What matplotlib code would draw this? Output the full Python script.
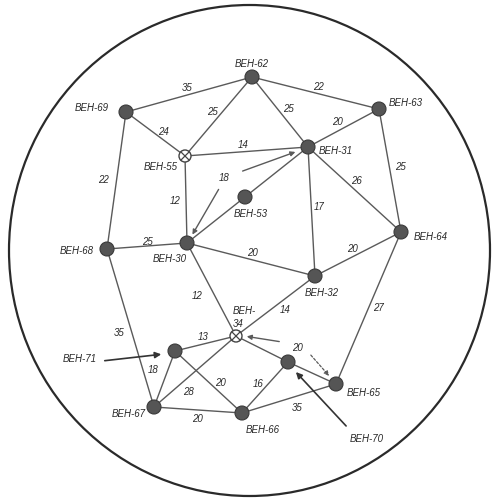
import matplotlib
matplotlib.use("Agg")
import matplotlib.pyplot as plt
from matplotlib.patches import Ellipse, Circle

plt.rcParams["font.family"] = ["Liberation Sans", "DejaVu Sans"]

# ---- data ----
node_names = ["BEH-62", "BEH-69", "BEH-63", "BEH-55", "BEH-31", "BEH-53", "BEH-64",
              "BEH-68", "BEH-30", "BEH-32", "BEH-34", "BEH-71", "BEH-70", "BEH-65",
              "BEH-67", "BEH-66"]
node_x = [252, 126, 379, 185, 308, 245, 401, 107, 187, 315, 236, 175, 288, 336, 154, 242]
node_y = [78, 113, 110, 157, 148, 198, 233, 250, 244, 277, 337, 352, 363, 385, 408, 414]
junction_nodes = ["BEH-55", "BEH-34"]

edge_from = ["BEH-62", "BEH-62", "BEH-62", "BEH-62", "BEH-63", "BEH-63", "BEH-69", "BEH-69",
             "BEH-55", "BEH-55", "BEH-31", "BEH-31", "BEH-31", "BEH-53", "BEH-68", "BEH-30",
             "BEH-32", "BEH-30", "BEH-32", "BEH-64", "BEH-34", "BEH-34", "BEH-70", "BEH-68",
             "BEH-71", "BEH-71", "BEH-70", "BEH-67", "BEH-66", "BEH-34"]
edge_to = ["BEH-69", "BEH-55", "BEH-31", "BEH-63", "BEH-31", "BEH-64", "BEH-55", "BEH-68",
           "BEH-31", "BEH-30", "BEH-64", "BEH-32", "BEH-53", "BEH-30", "BEH-30", "BEH-32",
           "BEH-64", "BEH-34", "BEH-34", "BEH-65", "BEH-71", "BEH-70", "BEH-65", "BEH-67",
           "BEH-67", "BEH-66", "BEH-66", "BEH-66", "BEH-65", "BEH-67"]
edge_weight = ["35", "25", "25", "22", "20", "25", "24", "22",
               "14", "12", "26", "17", "", "", "25", "20",
               "20", "12", "14", "27", "13", "20", "", "35",
               "18", "20", "16", "20", "35", "28"]
edge_label_x = [187, 212, 288, 318, 337, 400, 163, 103, 243, 175, 356, 319, 0, 0, 147, 252,
                352, 197, 285, 378, 203, 297, 0, 119, 153, 220, 258, 197, 297, 188]
edge_label_y = [88, 112, 109, 87, 122, 167, 132, 180, 145, 201, 181, 207, 0, 0, 242, 253,
                249, 296, 310, 308, 337, 348, 0, 333, 370, 383, 384, 419, 408, 392]

# weight of the 31-30 link shown with arrows
link_18_label = "18"

# node label placement: (x, y, ha)
label_pos = {
    "BEH-62": (252, 64, "center"), "BEH-69": (109, 108, "right"), "BEH-63": (389, 103, "left"),
    "BEH-55": (178, 167, "right"), "BEH-31": (319, 151, "left"), "BEH-53": (251, 214, "center"),
    "BEH-64": (414, 237, "left"), "BEH-68": (94, 251, "right"), "BEH-30": (170, 259, "center"),
    "BEH-32": (322, 293, "center"), "BEH-71": (97, 359, "right"), "BEH-70": (350, 439, "left"),
    "BEH-65": (347, 393, "left"), "BEH-67": (146, 414, "right"), "BEH-66": (263, 430, "center"),
}

W, H = 492, 502
fig = plt.figure(figsize=(W / 100, H / 100), dpi=100)
ax = fig.add_axes([0, 0, 1, 1])
ax.set_xlim(0, W)
ax.set_ylim(H, 0)
ax.axis("off")

pos = {n: (x, y) for n, x, y in zip(node_names, node_x, node_y)}
line_c = "#5a5a5a"
text_c = "#2a2a2a"
fs = 7

ax.add_patch(Ellipse((249.5, 251.5), 481, 491, fill=False, ec="#2a2a2a", lw=1.6, zorder=1))

for a, b, w, lx, ly in zip(edge_from, edge_to, edge_weight, edge_label_x, edge_label_y):
    (x1, y1), (x2, y2) = pos[a], pos[b]
    ax.plot([x1, x2], [y1, y2], color=line_c, lw=1.0, zorder=2)
    if w:
        ax.text(lx, ly, w, fontsize=fs, style="italic", color=text_c,
                ha="center", va="center", zorder=5)

# the 31 -> 30 link, drawn as two arrows from its label
ax.text(224, 178, link_18_label, fontsize=fs, style="italic", color=text_c,
        ha="center", va="center", zorder=5)
arrow_kw = dict(arrowstyle="-|>", color=line_c, lw=1.0, mutation_scale=7)
ax.annotate("", xy=(298, 152), xytext=(240, 173), arrowprops=arrow_kw, zorder=3)
ax.annotate("", xy=(191, 238), xytext=(220, 188), arrowprops=arrow_kw, zorder=3)

# pointer arrows
ax.annotate("", xy=(244, 337), xytext=(282, 343), arrowprops=arrow_kw, zorder=3)
ax.annotate("", xy=(331, 379), xytext=(309, 354),
            arrowprops=dict(arrowstyle="-|>", color=line_c, lw=0.9, ls=(0, (2, 1.5)),
                            mutation_scale=7), zorder=3)
ax.annotate("", xy=(294, 371), xytext=(348, 429),
            arrowprops=dict(arrowstyle="-|>", color="#333333", lw=1.2, mutation_scale=9), zorder=3)
ax.annotate("", xy=(164, 355), xytext=(102, 362),
            arrowprops=dict(arrowstyle="-|>", color="#333333", lw=1.2, mutation_scale=9), zorder=3)

# nodes
for n in node_names:
    x, y = pos[n]
    if n in junction_nodes:
        ax.add_patch(Circle((x, y), 6, fc="white", ec="#444444", lw=1.0, zorder=4))
        d = 4.0
        ax.plot([x - d, x + d], [y - d, y + d], color="#444444", lw=0.9, zorder=5)
        ax.plot([x - d, x + d], [y + d, y - d], color="#444444", lw=0.9, zorder=5)
    else:
        ax.add_patch(Circle((x, y), 7, fc="#555555", ec="#3a3a3a", lw=0.8, zorder=4))
    if n in label_pos:
        lx, ly, ha = label_pos[n]
        ax.text(lx, ly, n, fontsize=fs, style="italic", color=text_c,
                ha=ha, va="center", zorder=5)

# two-line label for BEH-34
ax.text(233, 311, "BEH-", fontsize=fs, style="italic", color=text_c, ha="left", va="center", zorder=5)
ax.text(233, 324, "34", fontsize=fs, style="italic", color=text_c, ha="left", va="center", zorder=5)

fig.savefig("out.png", dpi=100, facecolor="white")
